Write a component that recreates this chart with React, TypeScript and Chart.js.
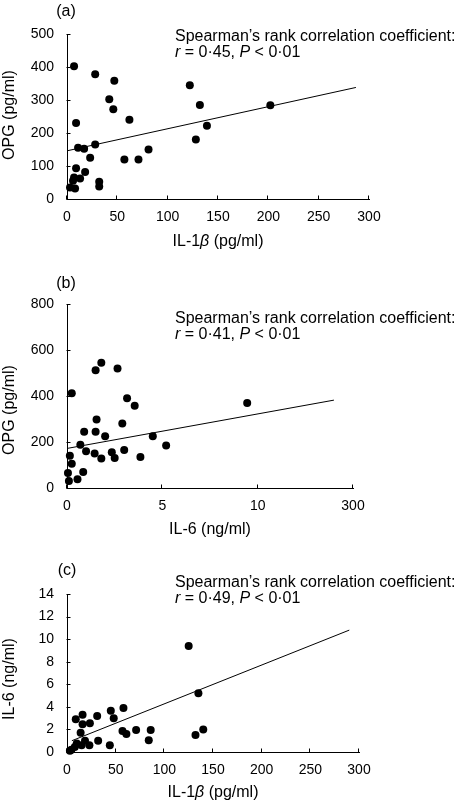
import React, { useEffect, useRef } from "react";
import { Chart, registerables } from "chart.js";

Chart.register(...registerables);

const FONT = '"Liberation Sans", Arial, Helvetica, sans-serif';

// ---------- Panel (a): OPG vs IL-1β ----------
const aIL1b = [7, 28, 47, 42, 46, 62, 9, 122, 132, 139, 128, 202, 28, 11, 17, 23, 9, 18, 13, 7, 6, 3, 8, 32, 32, 57, 71, 81];
const aOPG = [402, 378, 358, 302, 272, 240, 230, 345, 285, 222, 180, 284, 165, 155, 152, 125, 93, 82, 62, 65, 55, 35, 32, 52, 38, 120, 120, 150];
const aFitX = [0, 287];
const aFitY = [146, 338];
const aXTickValues = [0, 50, 100, 150, 200, 250, 300];
const aXTickLabels = ["0", "50", "100", "150", "200", "250", "300"];
const aYTickValues = [0, 100, 200, 300, 400, 500];
const aYTickLabels = ["0", "100", "200", "300", "400", "500"];

// ---------- Panel (b): OPG vs IL-6 ----------
const bIL6 = [0.05, 0.1, 0.15, 0.25, 0.25, 0.55, 0.7, 0.85, 0.9, 1.0, 1.45, 1.5, 1.55, 1.5, 1.8, 1.8, 2.0, 2.35, 2.5, 2.65, 2.9, 3.0, 3.15, 3.55, 3.85, 4.5, 5.2, 9.45];
const bOPG = [65, 30, 140, 105, 412, 38, 188, 70, 245, 160, 150, 245, 298, 512, 545, 128, 225, 155, 130, 520, 280, 165, 390, 358, 135, 225, 185, 370];
const bFitX = [0, 14];
const bFitY = [172, 382];
const bXTickValues = [0, 5, 10, 15];
const bXTickLabels = ["0", "5", "10", "300"];
const bYTickValues = [0, 200, 400, 600, 800];
const bYTickLabels = ["0", "200", "400", "600", "800"];

// ---------- Panel (c): IL-6 vs IL-1β ----------
const cIL1b = [3, 4.5, 8, 10, 9, 15, 16, 16, 14, 18.5, 23.5, 23, 31, 32, 44, 45, 48, 58, 57, 61, 71, 86, 84, 125, 135, 132, 140];
const cIL6 = [0.1, 0.2, 0.45, 0.75, 2.9, 0.6, 3.3, 2.45, 1.7, 1.0, 2.55, 0.6, 3.2, 1.0, 0.6, 3.65, 3.0, 3.9, 1.85, 1.6, 1.95, 1.95, 1.05, 9.4, 5.2, 1.5, 2.0];
const cFitX = [5, 290];
const cFitY = [1.0, 10.8];
const cXTickValues = [0, 50, 100, 150, 200, 250, 300];
const cXTickLabels = ["0", "50", "100", "150", "200", "250", "300"];
const cYTickValues = [0, 2, 4, 6, 8, 10, 12, 14];
const cYTickLabels = ["0", "2", "4", "6", "8", "10", "12", "14"];

const headerLine = "Spearman\u2019s rank correlation coefficient:";

type Seg = { t: string; i?: boolean };

const TEXT_SIZE = 16;

function setFont(ctx: CanvasRenderingContext2D, italic?: boolean) {
  ctx.font = `${italic ? "italic " : ""}${TEXT_SIZE}px ${FONT}`;
}

function drawSegs(ctx: CanvasRenderingContext2D, segs: Seg[], x: number, y: number, center: boolean) {
  const widths = segs.map((s) => {
    setFont(ctx, s.i);
    return ctx.measureText(s.t).width;
  });
  const total = widths.reduce((a, b) => a + b, 0);
  let cx = center ? x - total / 2 : x;
  ctx.textAlign = "left";
  segs.forEach((s, k) => {
    setFont(ctx, s.i);
    ctx.fillText(s.t, cx, y);
    cx += widths[k];
  });
}

const panelText = {
  id: "panelText",
  afterDraw(chart: any, _args: any, o: any) {
    const ctx: CanvasRenderingContext2D = chart.ctx;
    const area = chart.chartArea;
    const xs = chart.scales.x;
    const ys = chart.scales.y;
    ctx.save();
    ctx.strokeStyle = "#000";
    ctx.fillStyle = "#000";
    ctx.lineWidth = 1;
    ctx.beginPath();
    const by = Math.round(area.bottom) + 0.5;
    const lx = Math.round(area.left) - 0.5;
    xs.ticks.forEach((t: any) => {
      const px = Math.round(xs.getPixelForValue(t.value)) - 0.5;
      ctx.moveTo(px, by);
      ctx.lineTo(px, by - 4);
    });
    ys.ticks.forEach((t: any) => {
      const py = Math.round(ys.getPixelForValue(t.value)) + 0.5;
      ctx.moveTo(lx, py);
      ctx.lineTo(lx + 4, py);
    });
    ctx.stroke();

    // panel label
    setFont(ctx);
    ctx.textBaseline = "middle";
    ctx.textAlign = "center";
    ctx.fillText(o.label, o.labelX, o.labelY);

    // annotation
    ctx.textBaseline = "alphabetic";
    drawSegs(ctx, [{ t: headerLine }], o.annX, o.annY1, false);
    drawSegs(
      ctx,
      [{ t: "r", i: true }, { t: ` = ${o.r}, ` }, { t: "P", i: true }, { t: " < 0\u00b701" }],
      o.annX,
      o.annY2,
      false
    );

    // x title
    drawSegs(ctx, o.xTitle, o.xTitleX, o.xTitleY, true);

    // y title
    ctx.save();
    ctx.translate(o.yTitleX, o.yTitleY);
    ctx.rotate(-Math.PI / 2);
    ctx.textBaseline = "middle";
    drawSegs(ctx, o.yTitle, 0, 0, true);
    ctx.restore();

    ctx.restore();
  },
};

type PanelCfg = {
  xs: number[];
  ys: number[];
  fitX: number[];
  fitY: number[];
  xTickValues: number[];
  xTickLabels: string[];
  yTickValues: number[];
  yTickLabels: string[];
  height: number;
  padTop: number;
  padRight: number;
  xScaleH: number;
  text: any;
};

function makeConfig(p: PanelCfg): any {
  const tickFont = { family: FONT, size: 14 };
  return {
    type: "scatter",
    data: {
      datasets: [
        {
          data: p.xs.map((x, i) => ({ x, y: p.ys[i] })),
          backgroundColor: "#000",
          borderWidth: 0,
          pointRadius: 4,
          pointHoverRadius: 4,
          clip: false,
        },
        {
          type: "line",
          data: p.fitX.map((x, i) => ({ x, y: p.fitY[i] })),
          borderColor: "#000",
          borderWidth: 1,
          pointRadius: 0,
          fill: false,
          tension: 0,
          clip: false,
        },
      ],
    },
    options: {
      responsive: false,
      animation: false,
      events: [],
      layout: { padding: { top: p.padTop, right: p.padRight, left: 0, bottom: 0 } },
      plugins: {
        legend: { display: false },
        tooltip: { enabled: false },
        panelText: p.text,
      },
      scales: {
        x: {
          type: "linear",
          min: p.xTickValues[0],
          max: p.xTickValues[p.xTickValues.length - 1],
          afterBuildTicks: (s: any) => {
            s.ticks = p.xTickValues.map((v) => ({ value: v }));
          },
          ticks: {
            autoSkip: false,
            maxRotation: 0,
            padding: 10,
            color: "#000",
            font: tickFont,
            callback: (_v: any, i: number) => p.xTickLabels[i],
          },
          grid: { display: false, drawTicks: false },
          border: { display: true, color: "#000", width: 1 },
          afterFit: (s: any) => {
            s.height = p.xScaleH;
          },
        },
        y: {
          type: "linear",
          min: p.yTickValues[0],
          max: p.yTickValues[p.yTickValues.length - 1],
          afterBuildTicks: (s: any) => {
            s.ticks = p.yTickValues.map((v) => ({ value: v }));
          },
          ticks: {
            autoSkip: false,
            padding: 13,
            color: "#000",
            font: tickFont,
            callback: (_v: any, i: number) => p.yTickLabels[i],
          },
          grid: { display: false, drawTicks: false },
          border: { display: true, color: "#000", width: 1 },
          afterFit: (s: any) => {
            s.width = 67;
          },
        },
      },
    },
    plugins: [panelText],
  };
}

const il1bTitle: Seg[] = [{ t: "IL-1" }, { t: "\u03b2", i: true }, { t: " (pg/ml)" }];

const panels: { top: number; cfg: PanelCfg }[] = [
  {
    top: 0,
    cfg: {
      xs: aIL1b, ys: aOPG, fitX: aFitX, fitY: aFitY,
      xTickValues: aXTickValues, xTickLabels: aXTickLabels,
      yTickValues: aYTickValues, yTickLabels: aYTickLabels,
      height: 268, padTop: 34, padRight: 87, xScaleH: 69,
      text: {
        label: "(a)", labelX: 66, labelY: 12,
        annX: 175, annY1: 41, annY2: 57, r: "0\u00b745",
        xTitle: il1bTitle, xTitleX: 218, xTitleY: 246,
        yTitle: [{ t: "OPG (pg/ml)" }], yTitleX: 10, yTitleY: 115,
      },
    },
  },
  {
    top: 268,
    cfg: {
      xs: bIL6, ys: bOPG, fitX: bFitX, fitY: bFitY,
      xTickValues: bXTickValues, xTickLabels: bXTickLabels,
      yTickValues: bYTickValues, yTickLabels: bYTickLabels,
      height: 270, padTop: 36, padRight: 103, xScaleH: 50,
      text: {
        label: "(b)", labelX: 66, labelY: 15.5,
        annX: 175, annY1: 55, annY2: 71, r: "0\u00b741",
        xTitle: [{ t: "IL-6 (ng/ml)" }], xTitleX: 210, xTitleY: 266,
        yTitle: [{ t: "OPG (pg/ml)" }], yTitleX: 10, yTitleY: 142,
      },
    },
  },
  {
    top: 538,
    cfg: {
      xs: cIL1b, ys: cIL6, fitX: cFitX, fitY: cFitY,
      xTickValues: cXTickValues, xTickLabels: cXTickLabels,
      yTickValues: cYTickValues, yTickLabels: cYTickLabels,
      height: 266, padTop: 56, padRight: 97, xScaleH: 52,
      text: {
        label: "(c)", labelX: 67, labelY: 33,
        annX: 175, annY1: 49, annY2: 65, r: "0\u00b749",
        xTitle: il1bTitle, xTitleX: 213, xTitleY: 259,
        yTitle: [{ t: "IL-6 (ng/ml)" }], yTitleX: 10, yTitleY: 141,
      },
    },
  },
];

function Panel({ top, cfg }: { top: number; cfg: PanelCfg }) {
  const ref = useRef<HTMLCanvasElement>(null);
  useEffect(() => {
    if (!ref.current) return;
    const chart = new Chart(ref.current, makeConfig(cfg));
    return () => chart.destroy();
  }, [cfg]);
  return (
    <canvas
      ref={ref}
      width={456}
      height={cfg.height}
      style={{ position: "absolute", left: 0, top, width: 456, height: cfg.height, display: "block" }}
    />
  );
}

export default function App() {
  useEffect(() => {
    document.body.style.margin = "0";
  }, []);
  return (
    <div style={{ position: "absolute", left: 0, top: 0, width: 456, height: 804, background: "#fff" }}>
      {panels.map((p, i) => (
        <Panel key={i} top={p.top} cfg={p.cfg} />
      ))}
    </div>
  );
}
